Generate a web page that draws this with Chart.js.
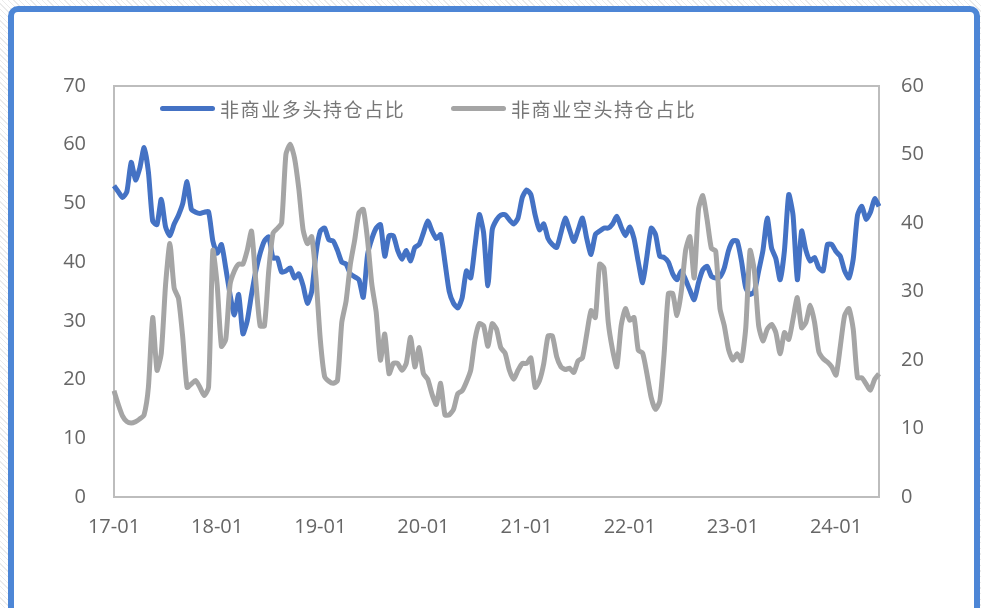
<!DOCTYPE html>
<html>
<head>
<meta charset="utf-8">
<script src="https://cdn.jsdelivr.net/npm/chart.js@4/dist/chart.umd.min.js"></script>
<style>
    html, body {
        margin: 0;
        width: 981px;
        height: 608px;
        overflow: hidden;
        background: repeating-linear-gradient(45deg, #ffffff 0 3px, #ebebeb 3px 4px);
    }
    .frame {
        position: absolute;
        left: 8px;
        top: 6px;
        width: 960px;
        height: 620px;
        border: 6px solid #4d86d6;
        border-radius: 10px 10px 0 0;
        background: #fff;
    }
    #chart {
        position: absolute;
        left: 0;
        top: 0;
    }
    .legend-item {
        position: absolute;
        top: 95px;
        height: 26px;
        display: flex;
        align-items: center;
        font-family: "Noto Sans CJK SC", sans-serif;
        font-size: 19px;
        letter-spacing: 1.6px;
        color: #777;
    }
    .legend-item .swatch {
        width: 55px;
        height: 5px;
        border-radius: 3px;
        margin-right: 5px;
    }
</style>
</head>
<body>
<div class="frame"></div>
<canvas id="chart" width="981" height="608"></canvas>
<div class="legend-item" style="left:160px"><span class="swatch" style="background:#4472c4"></span>非商业多头持仓占比</div>
<div class="legend-item" style="left:451px"><span class="swatch" style="background:#a5a5a5"></span>非商业空头持仓占比</div>

<script>
// Semi-monthly observations, Jan 2017 to mid 2024
const years = ['17', '18', '19', '20', '21', '22', '23', '24'];
const tickLabels = ['17-01', '18-01', '19-01', '20-01', '21-01', '22-01', '23-01', '24-01'];

// Non-commercial long share (%), left axis
const longShare = [
    53, 52, 51, 52, 57, 54, 56, 59.5, 55.4, 47, 46.4, 50.7, 46, 44.5, 46.5, 48, 50, 53.7, 49, 48.5,
    48.3, 48.5, 48.6, 43.6, 41.5, 43, 39, 34.5, 31, 34.5, 27.8, 30, 34.5, 38.5, 41.5, 43.6, 44.3, 40.7, 40.7, 38.3,
    38.5, 39, 37.3, 38, 36, 33, 35, 41.5, 45.3, 45.8, 43.8, 43.6, 42, 40, 39.7, 38, 37.5, 37, 34, 41.3,
    44, 45.8, 46.4, 41, 44.5, 44.5, 42, 40.5, 42, 40.2, 42.5, 43, 45, 47, 45.3, 44, 44.7, 40, 35, 33,
    32.2, 33.9, 38.5, 37.3, 42.8, 48.1, 45, 36, 45.5, 47.2, 48, 48.1, 47.2, 46.5, 47.5, 51, 52.3, 51.5, 48, 45.5,
    46.5, 44, 43, 42.5, 45, 47.5, 45.5, 43.5, 45.5, 47.5, 44, 41.3, 44.7, 45.3, 45.8, 45.8, 46.5, 47.8, 46, 44.5,
    46, 44, 40, 36.5, 41, 45.8, 44.7, 41, 40.8, 40, 38, 37, 38.5, 37, 35.2, 33.6, 36.5, 38.7, 39.3, 37.6,
    37.3, 37.5, 39, 42, 43.6, 43.6, 40.2, 35.6, 34.5, 35, 38.5, 42, 47.5, 42.4, 40.6, 37, 42, 51.5, 48, 37,
    45.3, 42, 40.2, 40.8, 39, 38.5, 43, 43, 41.8, 41, 38.5, 37.3, 40.5, 48, 49.5, 47.3, 48.5, 50.8, 49.5
];

// Non-commercial short share (%), right axis
const shortShare = [
    15.5, 13.5, 11.8, 11, 10.8, 11, 11.4, 12, 16, 26.2, 18.5, 21, 31, 37, 30.5, 29, 23.3, 16, 16.5, 17,
    16, 14.8, 16, 36, 31, 22, 23, 31, 33, 34, 34, 36, 38.8, 31.5, 25, 25, 33, 38.5, 39.2, 40,
    50, 51.5, 49.5, 45, 39, 37, 38, 32, 23, 17.6, 16.9, 16.6, 17, 25.5, 28.6, 34, 37.5, 41.5, 42, 37.5,
    31, 27, 20, 23.8, 18, 19.5, 19.5, 18.5, 19.5, 23.3, 19, 21.8, 18, 17.2, 15, 13.5, 16.6, 12, 12, 12.8,
    15.1, 15.5, 16.8, 18.5, 23, 25.3, 25, 22, 25.3, 24.5, 21.8, 21, 18.5, 17.2, 18.5, 19.5, 19.5, 20.3, 16, 17,
    19.5, 23.5, 23.5, 20.5, 19, 18.6, 18.8, 18.2, 19.9, 20.3, 23.8, 27.2, 26.2, 34, 33.4, 25.5, 21.5, 19, 25, 27.5,
    25.8, 26.2, 21.4, 21, 18, 14.5, 12.8, 14, 20.9, 29.7, 29.7, 26.5, 30, 36, 38, 32, 42, 44, 40.5, 36.3,
    35.9, 27.5, 25, 21.5, 20, 20.9, 19.9, 24.7, 36, 33, 25, 22.8, 24.5, 25.2, 24, 20.9, 24, 23, 26, 29.1,
    24.7, 25.5, 28, 25.5, 21.2, 20.2, 19.7, 19, 17.8, 22, 26.5, 27.5, 24.5, 17.4, 17.4, 16.5, 15.6, 17.2, 18
];

// one label per half month: YY-MM-01 and YY-MM-16
const dates = [];
years.forEach(yy => {
    for (let m = 1; m <= 12; m++) {
        const mm = String(m).padStart(2, '0');
        dates.push(`${yy}-${mm}-01`, `${yy}-${mm}-16`);
    }
});
dates.length = longShare.length;

// plot box outline (all four sides)
const boxOutline = {
    id: 'boxOutline',
    beforeDatasetsDraw(chart) {
        const { ctx, chartArea: a } = chart;
        ctx.save();
        ctx.strokeStyle = '#bdbdbd';
        ctx.lineWidth = 2;
        ctx.strokeRect(a.left, a.top, a.right - a.left, a.bottom - a.top);
        ctx.restore();
    }
};

const tickFont = { family: '"Open Sans", sans-serif', size: 20 };

new Chart(document.getElementById('chart').getContext('2d'), {
    type: 'line',
    data: {
        labels: dates,
        datasets: [{
            label: '非商业多头持仓占比',
            data: longShare,
            yAxisID: 'y',
            borderColor: '#4472c4',
            borderWidth: 5,
            pointRadius: 0,
            tension: 0.2,
            order: 2
        }, {
            label: '非商业空头持仓占比',
            data: shortShare,
            yAxisID: 'y1',
            borderColor: '#a5a5a5',
            borderWidth: 5,
            pointRadius: 0,
            tension: 0.2,
            order: 1
        }]
    },
    options: {
        responsive: false,
        animation: false,
        layout: { padding: { top: 86, left: 0, right: 0, bottom: 0 } },
        plugins: {
            legend: { display: false },
            tooltip: { enabled: false }
        },
        scales: {
            x: {
                offset: false,
                grid: { display: false, drawTicks: false },
                border: { display: false },
                afterFit: s => { s.height = 111; },
                ticks: {
                    autoSkip: false,
                    maxRotation: 0,
                    padding: 18,
                    color: '#666',
                    font: tickFont,
                    callback(v) {
                        const lab = this.getLabelForValue(v);
                        const short = lab.slice(0, 5);
                        return lab.endsWith('-01') && tickLabels.includes(short) ? short : null;
                    }
                }
            },
            y: {
                position: 'left',
                min: 0,
                max: 70,
                grid: { display: false, drawTicks: false },
                border: { display: false },
                afterFit: s => { s.width = 114; },
                ticks: { stepSize: 10, padding: 28, color: '#666', font: tickFont }
            },
            y1: {
                position: 'right',
                min: 0,
                max: 60,
                grid: { display: false, drawTicks: false },
                border: { display: false },
                afterFit: s => { s.width = 102; },
                ticks: { stepSize: 10, padding: 22, color: '#666', font: tickFont }
            }
        }
    },
    plugins: [boxOutline]
});
</script>
</body>
</html>
